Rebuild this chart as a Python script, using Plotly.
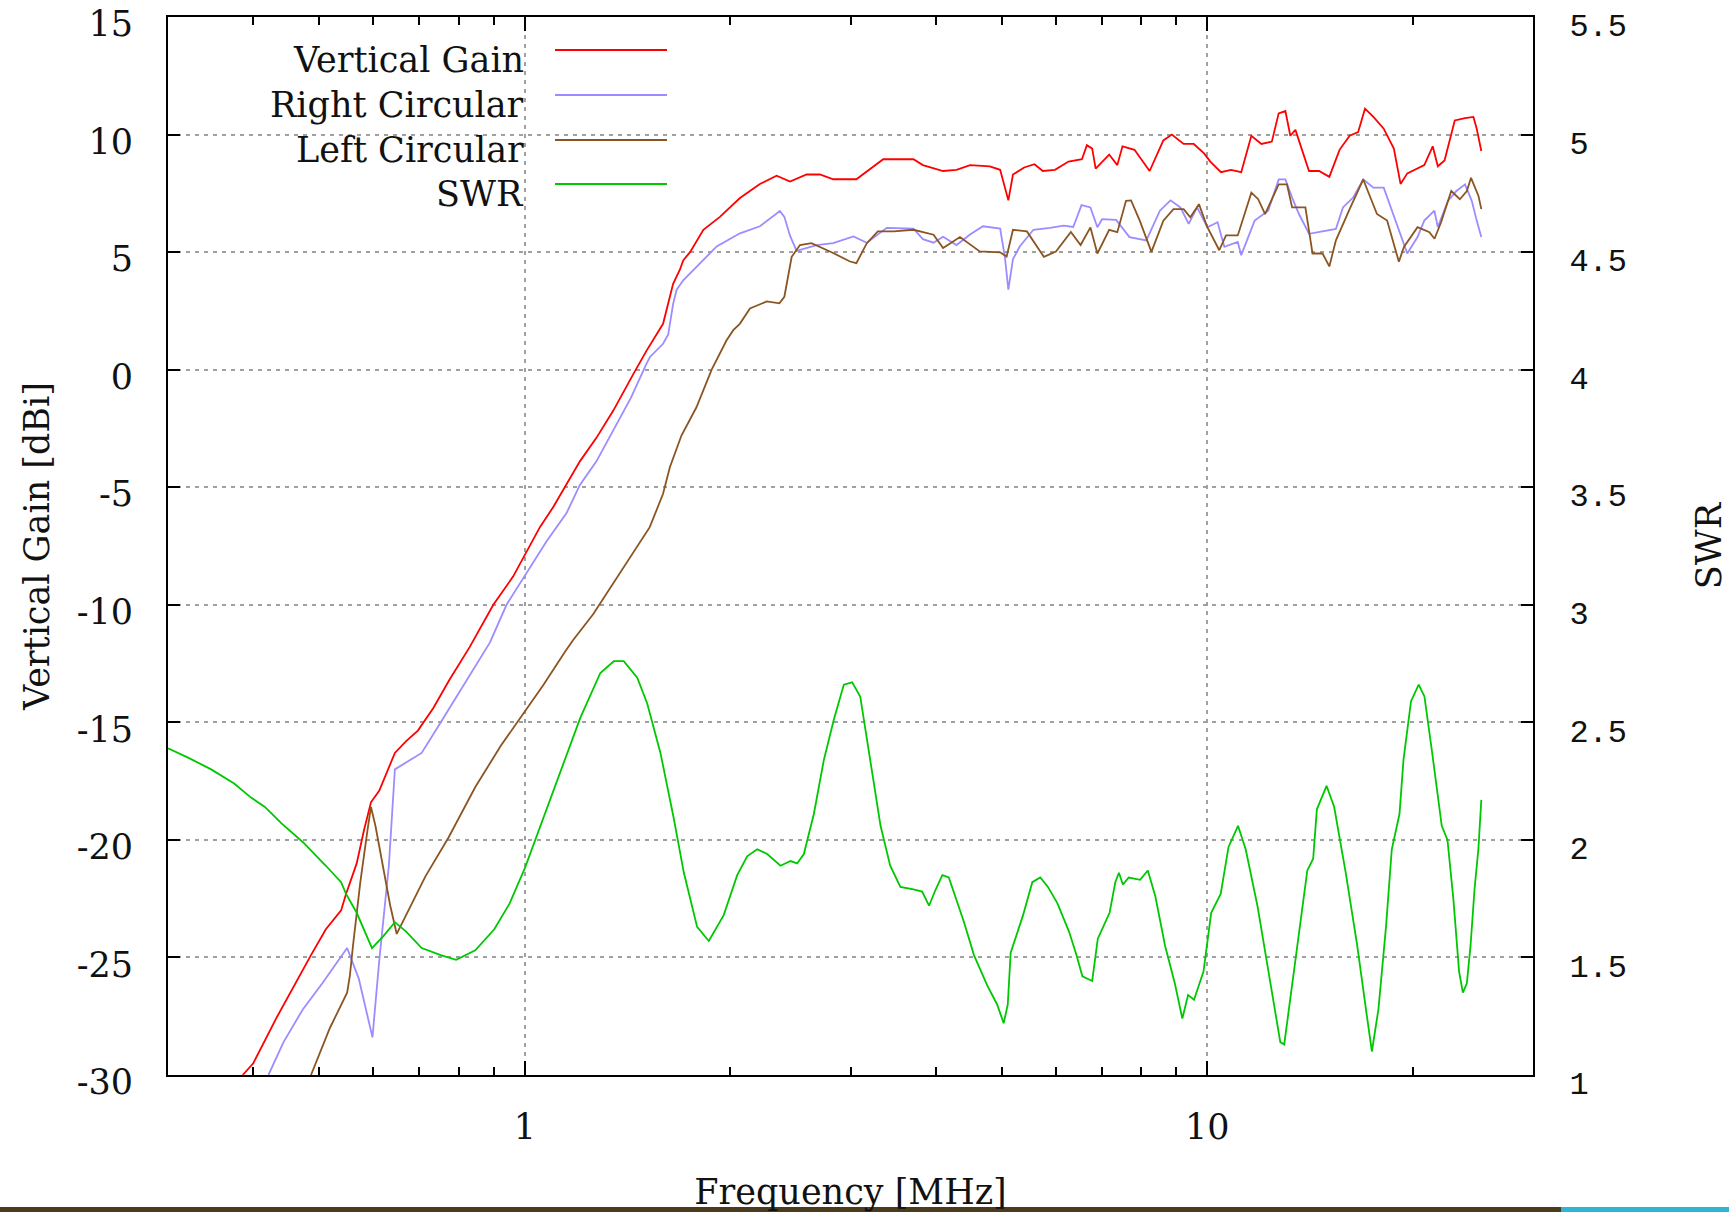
import math
import plotly.graph_objects as go

# ---------------- data ----------------
vg_freq = [0.386, 0.40, 0.432, 0.461, 0.486, 0.511, 0.538, 0.547, 0.567, 0.581, 0.595, 0.612, 0.645, 0.67,
           0.697, 0.734, 0.775, 0.83, 0.899, 0.961, 1.0, 1.052, 1.10, 1.151, 1.204, 1.273, 1.347, 1.441,
           1.507, 1.594, 1.622, 1.649, 1.687, 1.706, 1.746, 1.826, 1.931, 2.066, 2.21, 2.338, 2.446, 2.587,
           2.706, 2.83, 3.06, 3.24, 3.35, 3.71, 3.83, 4.10, 4.29, 4.49, 4.80, 4.97, 5.11, 5.19, 5.39, 5.58,
           5.74, 5.98, 6.26, 6.55, 6.66, 6.78, 6.86, 7.18, 7.38, 7.51, 7.82, 8.23, 8.62, 8.87, 9.23, 9.55,
           9.89, 10.1, 10.47, 10.83, 11.21, 11.6, 12.0, 12.43, 12.72, 13.01, 13.23, 13.46, 14.09, 14.58,
           15.09, 15.62, 16.16, 16.63, 17.02, 17.51, 18.13, 18.76, 19.19, 19.63, 20.79, 21.39, 21.76, 22.26,
           23.04, 23.85, 24.54, 24.81, 25.2]
vg_gain = [-30.0, -29.5, -27.6, -26.1, -24.9, -23.8, -23.0, -22.3, -21.0, -19.6, -18.4, -17.9, -16.3, -15.8,
           -15.35, -14.4, -13.2, -11.8, -10.0, -8.8, -7.85, -6.7, -5.85, -4.9, -3.9, -2.9, -1.75, -0.2,
           0.8, 1.95, 2.8, 3.65, 4.25, 4.65, 5.0, 5.95, 6.5, 7.3, 7.9, 8.25, 8.0, 8.3,
           8.3, 8.1, 8.1, 8.65, 8.95, 8.95, 8.7, 8.45, 8.5, 8.7, 8.65, 8.5, 7.2, 8.3, 8.6, 8.74,
           8.45, 8.5, 8.85, 8.95, 9.55, 9.4, 8.55, 9.15, 8.7, 9.5, 9.35, 8.45, 9.75, 10.0, 9.6, 9.6,
           9.2, 8.85, 8.4, 8.5, 8.4, 9.95, 9.6, 9.7, 10.9, 11.0, 9.95, 10.2, 8.45, 8.45,
           8.2, 9.35, 9.95, 10.1, 11.1, 10.75, 10.25, 9.4, 7.9, 8.35, 8.7, 9.5, 8.65, 8.9,
           10.6, 10.7, 10.75, 10.25, 9.3]

rc_freq = [0.421, 0.443, 0.473, 0.505, 0.549, 0.571, 0.598, 0.612, 0.632, 0.645, 0.679, 0.706, 0.753, 0.818,
           0.889, 0.94, 1.0, 1.076, 1.151, 1.204, 1.273, 1.347, 1.43, 1.507, 1.525, 1.594, 1.622, 1.649,
           1.669, 1.706, 1.805, 1.91, 2.066, 2.21, 2.364, 2.40, 2.446, 2.501, 2.676, 2.83, 3.03, 3.17,
           3.39, 3.71, 3.83, 3.97, 4.10, 4.29, 4.49, 4.69, 4.97, 5.05, 5.11, 5.19, 5.31, 5.56, 5.88, 6.16,
           6.36, 6.54, 6.74, 6.90, 7.01, 7.35, 7.69, 8.14, 8.52, 8.83, 9.13, 9.39, 9.66, 10.0, 10.35,
           10.59, 11.08, 11.21, 11.73, 12.28, 12.72, 13.01, 13.31, 13.62, 14.09, 14.92, 15.43, 15.8, 16.35,
           16.92, 17.51, 18.13, 18.87, 19.63, 20.32, 20.79, 21.51, 21.76, 22.52, 23.17, 23.85, 24.4, 24.81,
           25.2]
rc_gain = [-30.0, -28.6, -27.2, -26.1, -24.6, -25.9, -28.4, -25.1, -21.1, -17.0, -16.6, -16.3, -15.0, -13.3,
           -11.6, -10.0, -8.75, -7.3, -6.1, -4.9, -3.9, -2.6, -1.2, 0.25, 0.54, 1.1, 1.5, 2.8,
           3.4, 3.8, 4.5, 5.24, 5.8, 6.1, 6.75, 6.5, 5.7, 5.05, 5.3, 5.38, 5.67, 5.4,
           6.03, 6.0, 5.55, 5.4, 5.65, 5.3, 5.75, 6.1, 6.0, 4.8, 3.4, 4.7, 5.24, 5.95, 6.03, 6.13,
           6.07, 7.0, 6.9, 6.06, 6.4, 6.37, 5.64, 5.5, 6.76, 7.2, 6.9, 6.2, 6.9, 6.06, 6.27,
           5.22, 5.43, 4.87, 6.34, 6.76, 8.09, 8.09, 7.32, 6.62, 5.78, 5.92, 5.99, 6.9, 7.32,
           8.09, 7.74, 7.74, 6.34, 4.94, 5.64, 6.34, 6.76, 6.06, 7.18, 7.6, 7.88, 7.18, 6.34,
           5.64]

lc_freq = [0.486, 0.518, 0.549, 0.554, 0.56, 0.574, 0.588, 0.595, 0.604, 0.62, 0.635, 0.649, 0.67, 0.715,
           0.773, 0.846, 0.922, 1.0, 1.065, 1.145, 1.177, 1.259, 1.347, 1.441, 1.524, 1.594, 1.631, 1.696,
           1.784, 1.878, 1.974, 2.02, 2.065, 2.137, 2.261, 2.36, 2.40, 2.46, 2.53, 2.63, 2.83, 2.995,
           3.06, 3.17, 3.29, 3.47, 3.71, 3.97, 4.10, 4.34, 4.64, 4.97, 5.08, 5.19, 5.44, 5.76, 6.0,
           6.31, 6.52, 6.74, 6.90, 7.18, 7.38, 7.6, 7.73, 7.96, 8.28, 8.62, 8.92, 9.23, 9.44, 9.72,
           10.0, 10.41, 10.65, 11.08, 11.6, 11.87, 12.15, 12.72, 13.08, 13.31, 13.92, 14.26, 14.75, 15.09,
           15.43, 16.16, 16.92, 17.72, 18.34, 19.08, 19.41, 20.32, 21.15, 21.52, 22.0, 22.77, 23.44, 24.0,
           24.34, 24.96, 25.2]
lc_gain = [-30.0, -28.0, -26.5, -25.8, -24.5, -21.8, -19.6, -18.6, -19.4, -21.1, -22.8, -24.0, -23.2, -21.55,
           -19.9, -17.75, -16.0, -14.55, -13.4, -12.0, -11.5, -10.4, -9.1, -7.8, -6.7, -5.28, -4.15, -2.8,
           -1.6, 0.0, 1.24, 1.68, 1.95, 2.6, 2.9, 2.82, 3.1, 4.8, 5.3, 5.38, 4.96, 4.6,
           4.53, 5.38, 5.88, 5.88, 5.95, 5.74, 5.17, 5.64, 5.03, 4.99, 4.81, 5.95, 5.88, 4.8, 5.02,
           5.86, 5.3, 6.05, 4.94, 5.95, 5.85, 7.18, 7.2, 6.34, 5.01, 6.34, 6.83, 6.83, 6.48, 7.04,
           6.06, 5.08, 5.71, 5.71, 7.53, 7.25, 6.62, 7.88, 7.88, 6.9, 6.9, 4.94, 4.94, 4.39,
           5.5, 6.83, 8.09, 6.62, 6.34, 4.59, 5.22, 6.06, 5.85, 5.57, 6.27, 7.6, 7.25, 7.6,
           8.16, 7.39, 6.83]

swr_freq = [0.30, 0.321, 0.347, 0.375, 0.397, 0.416, 0.44, 0.473, 0.511, 0.538, 0.547, 0.567, 0.597, 0.62,
            0.645, 0.67, 0.706, 0.753, 0.793, 0.846, 0.902, 0.95, 1.0, 1.048, 1.09, 1.153, 1.206, 1.29,
            1.35, 1.396, 1.461, 1.511, 1.58, 1.653, 1.71, 1.788, 1.86, 1.956, 2.047, 2.117, 2.19, 2.265,
            2.369, 2.45, 2.506, 2.563, 2.651, 2.742, 2.835, 2.933, 3.017, 3.10, 3.21, 3.32, 3.43, 3.55,
            3.71, 3.82, 3.91, 4.0, 4.09, 4.18, 4.40, 4.55, 4.76, 4.92, 5.03, 5.10, 5.15, 5.23, 5.37,
            5.54, 5.69, 5.84, 6.03, 6.27, 6.43, 6.56, 6.78, 6.91, 7.19, 7.33, 7.42, 7.52, 7.67, 7.97,
            8.18, 8.39, 8.67, 8.96, 9.19, 9.37, 9.56, 9.87, 10.13, 10.46, 10.74, 11.09, 11.38, 11.84,
            12.30, 12.79, 12.96, 13.3, 13.65, 14.01, 14.29, 14.47, 14.95, 15.34, 15.95, 16.58, 17.13,
            17.42, 17.81, 18.27, 18.63, 19.12, 19.38, 19.88, 20.4, 20.8, 21.35, 22.05, 22.48, 22.93,
            23.38, 23.68, 24.0, 24.3, 24.63, 24.95, 25.2]
swr_vals = [2.39, 2.35, 2.30, 2.24, 2.18, 2.14, 2.07, 1.99, 1.89, 1.82, 1.77, 1.69, 1.54, 1.59,
            1.65, 1.61, 1.54, 1.51, 1.49, 1.53, 1.62, 1.73, 1.88, 2.04, 2.17, 2.37, 2.52, 2.71,
            2.76, 2.76, 2.69, 2.58, 2.37, 2.09, 1.86, 1.63, 1.57, 1.68, 1.85, 1.93, 1.96, 1.94,
            1.89, 1.91, 1.90, 1.94, 2.11, 2.34, 2.51, 2.66, 2.67, 2.61, 2.34, 2.06, 1.89, 1.80,
            1.79, 1.78, 1.72, 1.79, 1.85, 1.84, 1.65, 1.51, 1.38, 1.30, 1.22, 1.30, 1.52, 1.58, 1.68,
            1.82, 1.84, 1.80, 1.73, 1.61, 1.51, 1.42, 1.40, 1.58, 1.69, 1.82, 1.86, 1.81, 1.84, 1.83,
            1.87, 1.76, 1.55, 1.39, 1.24, 1.34, 1.32, 1.44, 1.69, 1.77, 1.97, 2.06, 1.96, 1.72,
            1.44, 1.14, 1.13, 1.37, 1.62, 1.87, 1.92, 2.13, 2.23, 2.14, 1.86, 1.55, 1.25,
            1.10, 1.28, 1.63, 1.96, 2.11, 2.34, 2.59, 2.66, 2.61, 2.37, 2.06, 2.0, 1.75,
            1.44, 1.35, 1.39, 1.55, 1.79, 1.96, 2.17]

series_names = ["Vertical Gain", "Right Circular", "Left Circular", "SWR"]
gain_ticks = [-30, -25, -20, -15, -10, -5, 0, 5, 10, 15]
gain_tick_text = ["-30", "-25", "-20", "-15", "-10", "-5", "0", "5", "10", "15"]
swr_ticks = [1, 1.5, 2, 2.5, 3, 3.5, 4, 4.5, 5, 5.5]
swr_tick_text = ["1", "1.5", "2", "2.5", "3", "3.5", "4", "4.5", "5", "5.5"]
x_major_ticks = [1, 10]
x_major_text = ["1", "10"]
x_minor_ticks = [0.4, 0.5, 0.6, 0.7, 0.8, 0.9, 2, 3, 4, 5, 6, 7, 8, 9, 20]

# ---------------- style ----------------
colors = ["#ff0000", "#9d8cff", "#8b5522", "#00c800"]
W, H = 1729, 1212
ML, MR, MT, MB = 168, 196, 17, 137
PW, PH = W - ML - MR, H - MT - MB
SERIF = "DejaVu Serif"
MONO = "Liberation Mono"
TXT = "#111111"
FS = 35


def pxx(x):
    return (x - ML) / PW


def pxy(y):
    return 1 - (y - MT) / PH


fig = go.Figure()
fig.add_trace(go.Scatter(x=vg_freq, y=vg_gain, mode="lines", name=series_names[0],
                         line=dict(color=colors[0], width=1.8)))
fig.add_trace(go.Scatter(x=rc_freq, y=rc_gain, mode="lines", name=series_names[1],
                         line=dict(color=colors[1], width=1.8)))
fig.add_trace(go.Scatter(x=lc_freq, y=lc_gain, mode="lines", name=series_names[2],
                         line=dict(color=colors[2], width=1.8)))
fig.add_trace(go.Scatter(x=swr_freq, y=swr_vals, mode="lines", name=series_names[3], yaxis="y2",
                         line=dict(color=colors[3], width=1.8)))

# gnuplot-style legend: text right-aligned, sample line to the right
shapes = []
annotations = []
row_y = [60, 105, 150, 194]
for name, col, yy in zip(series_names, colors, row_y):
    annotations.append(dict(xref="paper", yref="paper", x=pxx(526), y=pxy(yy), text=name,
                            showarrow=False, xanchor="right", yanchor="middle",
                            font=dict(family=SERIF, size=FS, color=TXT)))
    shapes.append(dict(type="line", xref="paper", yref="paper", x0=pxx(555), x1=pxx(667),
                       y0=pxy(yy - 10), y1=pxy(yy - 10), line=dict(color=col, width=2.2)))

# thin strip at the bottom edge of the screenshot
shapes.append(dict(type="rect", xref="paper", yref="paper", x0=pxx(0), x1=pxx(1561),
                   y0=pxy(1212), y1=pxy(1207), line=dict(width=0), fillcolor="#4a3a1e", layer="above"))
shapes.append(dict(type="rect", xref="paper", yref="paper", x0=pxx(1561), x1=pxx(1729),
                   y0=pxy(1212), y1=pxy(1207), line=dict(width=0), fillcolor="#2fb4d2", layer="above"))

axis_common = dict(showline=True, linecolor="black", linewidth=2, ticks="inside", tickcolor="black",
                   tickwidth=2, automargin=False, zeroline=False, ticklabeloverflow="allow")

fig.update_layout(
    width=W, height=H, template="none",
    margin=dict(l=ML, r=MR, t=MT, b=MB, pad=0),
    paper_bgcolor="white", plot_bgcolor="white",
    showlegend=False,
    xaxis=dict(type="log", range=[math.log10(0.3), math.log10(30)],
               tickvals=x_major_ticks, ticktext=x_major_text,
               ticklen=14, mirror="ticks",
               showgrid=True, gridcolor="#a0a0a0", griddash="4px,5px", gridwidth=1.5,
               minor=dict(tickvals=x_minor_ticks, ticks="inside", ticklen=8, tickwidth=1.5,
                          tickcolor="black", showgrid=False),
               tickfont=dict(family=SERIF, size=FS, color=TXT),
               ticklabelstandoff=20,
               title=dict(text="Frequency [MHz]", font=dict(family=SERIF, size=FS, color=TXT),
                          standoff=34),
               **axis_common),
    yaxis=dict(range=[-30, 15], tickvals=gain_ticks, ticktext=gain_tick_text, ticklen=12,
               mirror="ticks",
               showgrid=True, gridcolor="#a0a0a0", griddash="4px,5px", gridwidth=1.5,
               tickfont=dict(family=SERIF, size=FS, color=TXT),
               ticklabelstandoff=26, ticklabelshift=7,
               title=dict(text="Vertical Gain [dBi]", font=dict(family=SERIF, size=FS, color=TXT),
                          standoff=16),
               **axis_common),
    yaxis2=dict(range=[1, 5.5], tickvals=swr_ticks, ticktext=swr_tick_text, overlaying="y",
                side="right", ticklen=12, showgrid=False,
                tickfont=dict(family=MONO, size=32, color=TXT),
                ticklabelstandoff=28, ticklabelshift=8,
                title=dict(text="SWR", font=dict(family=SERIF, size=FS, color=TXT), standoff=70),
                **axis_common),
    shapes=shapes,
    annotations=annotations,
)

fig.write_html("out.html")
